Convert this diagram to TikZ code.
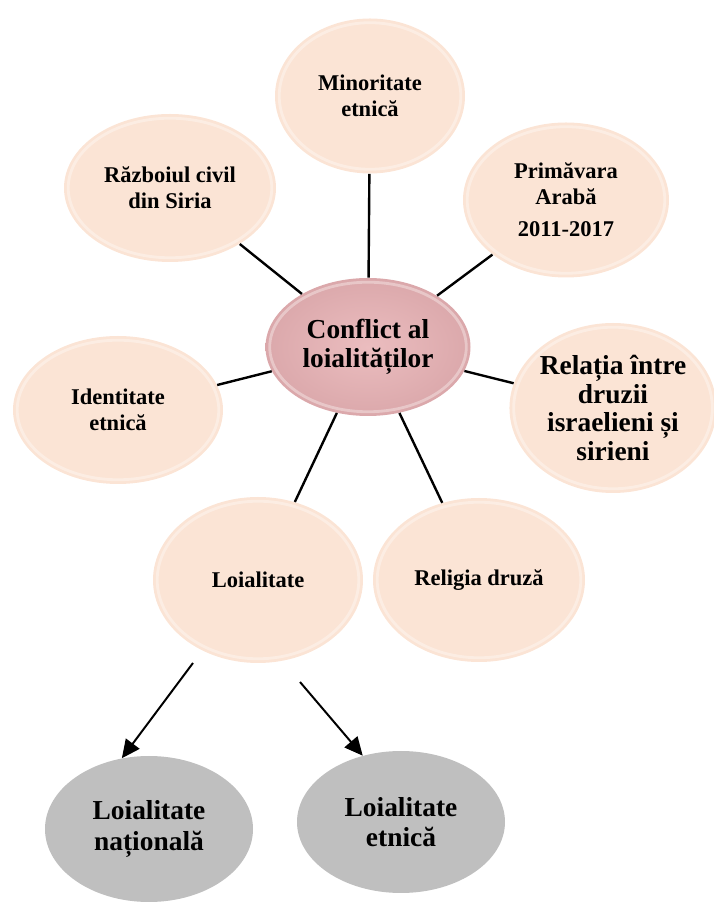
\documentclass[tikz,border=0pt]{standalone}
\usepackage{fontspec}
\setmainfont{Liberation Serif}
\usetikzlibrary{shapes.geometric,arrows.meta,calc}
\definecolor{peach}{HTML}{FBE4D5}
\definecolor{rosein}{HTML}{EBBDBF}
\definecolor{roseout}{HTML}{DBA8AB}
\definecolor{greyfill}{HTML}{BFBFBF}

\begin{document}
\begin{tikzpicture}[
    gloss/.style={path picture={\draw[white,opacity=.35,line width=2pt] let \p1=($(path picture bounding box.north east)-(path picture bounding box.center)$) in (path picture bounding box.center) ellipse [x radius=\x1-3pt, y radius=\y1-3pt];}},
    bubble/.style={ellipse,inner sep=0pt,align=center,fill=peach,gloss,font=\fontsize{16}{18.5}\selectfont\bfseries},
    hub/.style={ellipse,inner sep=0pt,align=center,shading=radial,inner color=rosein,outer color=roseout,gloss,font=\fontsize{19.5}{21}\selectfont\bfseries},
    leaf/.style={ellipse,inner sep=0pt,align=center,fill=greyfill,font=\fontsize{19.5}{21.5}\selectfont\bfseries},
    link/.style={line width=1.7pt},
    arr/.style={-{Triangle[length=13pt,width=12pt]},line width=1.4pt}
  ]
                \useasboundingbox (0,0) rectangle (17.825,22.6);
                \node (min) at (9.25,20.2)[bubble,minimum width=4.75cm,minimum height=3.875cm]{Minoritate\\etnică};
                \node (war) at (4.25,17.9)[bubble,minimum width=5.3cm,minimum height=3.7cm]{Războiul civil\\din Siria};
                \node (spring) at (14.15,17.6)[bubble,minimum width=5.15cm,minimum height=3.875cm]{Primăvara\\Arabă\\[4pt]2011-2017};
                \node (ident) at (2.95,12.35)[bubble,minimum width=5.25cm,minimum height=3.7cm]{Identitate\\etnică};
                \node (rel) at (15.325,12.4)[bubble,minimum width=5.15cm,minimum height=4.25cm,font=\fontsize{19.5}{20.5}\selectfont\bfseries]{Relația între\\druzii\\israelieni și\\sirieni};
                \node (loy) at (6.45,8.1)[bubble,minimum width=5.25cm,minimum height=4.15cm]{Loialitate};
                \node (druz) at (11.975,8.1)[bubble,minimum width=5.3cm,minimum height=4.1cm]{Religia druză};
                \node (conf) at (9.2,13.925)[hub,minimum width=5.125cm,minimum height=3.45cm]{Conflict al\\loialităților};
                \node (nat) at (3.725,1.875)[leaf,minimum width=5.2cm,minimum height=3.65cm]{Loialitate\\națională};
                \node (eth) at (10.025,2.05)[leaf,minimum width=5.2cm,minimum height=3.55cm]{Loialitate\\etnică};
                \coordinate (s1) at (4.825,6.025);
                \coordinate (s2) at (7.5,5.55);
                \draw[link] (conf)--(min);
                \draw[link] (conf)--(war);
                \draw[link] (conf)--(spring);
                \draw[link] (conf)--(ident);
                \draw[link] (conf)--(rel);
                \draw[link] (conf)--(loy);
                \draw[link] (conf)--(druz);
                \draw[arr] (s1)--(nat.111);
                \draw[arr] (s2)--(eth.120);
            \end{tikzpicture}
\end{document}
